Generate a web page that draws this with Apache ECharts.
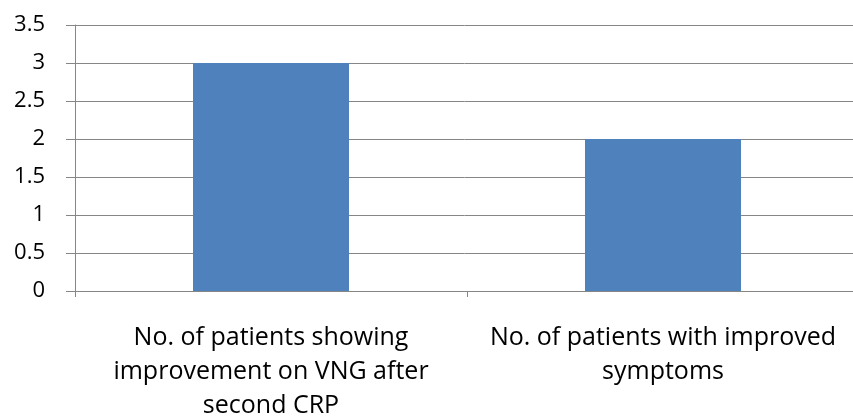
<!DOCTYPE html>
<html>
<head>
<meta charset="utf-8">
<script src="https://cdn.jsdelivr.net/npm/echarts@6/dist/echarts.min.js"></script>
<style>
  html, body { margin: 0; padding: 0; background: #fff; }
  #chart { width: 853px; height: 420px; }
</style>
</head>
<body>
<div id="chart"></div>
<script>
// data
const categories = [
    'No. of patients showing\nimprovement on VNG after\nsecond CRP',
    'No. of patients with improved\nsymptoms'
];
const values = [3, 2];

document.addEventListener('DOMContentLoaded', () => {
    const chart = echarts.init(document.getElementById('chart'));
    const font = 'Open Sans, Noto Sans, sans-serif';
    chart.setOption({
        animation: false,
        grid: { left: 75, top: 25, width: 784, height: 266, outerBoundsMode: 'none' },
        xAxis: {
            type: 'category',
            data: categories,
            axisLine: { lineStyle: { color: '#868686', width: 1 } },
            axisTick: { show: true, length: 6, lineStyle: { color: '#868686' } },
            axisLabel: {
                color: '#000', fontSize: 25, fontFamily: font,
                lineHeight: 34, margin: 30, interval: 0, align: 'center'
            },
            splitLine: { show: false }
        },
        yAxis: {
            type: 'value',
            min: 0, max: 3.5, interval: 0.5,
            axisLine: { show: true, lineStyle: { color: '#868686' } },
            axisTick: { show: true, length: 9, lineStyle: { color: '#868686' } },
            axisLabel: { color: '#000', fontSize: 22, fontFamily: font, margin: 30 },
            splitLine: { lineStyle: { color: '#868686', width: 1 } }
        },
        series: [{
            type: 'bar',
            data: values,
            barWidth: 156,
            itemStyle: { color: '#4F81BD' }
        }]
    });
});
</script>
</body>
</html>
